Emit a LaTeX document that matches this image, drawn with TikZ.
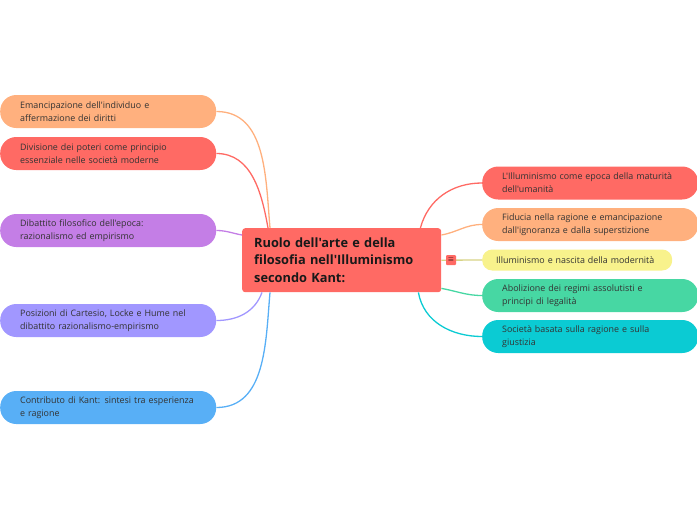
\documentclass[tikz,border=0pt]{standalone}
\usepackage{fontspec}
\setmainfont{Open Sans}[Ligatures=TeXOff]
\usepackage{xcolor}
\definecolor{Coral}{HTML}{FF6A64}
\definecolor{Peach}{HTML}{FFB07E}
\definecolor{Orchid}{HTML}{C47EE6}
\definecolor{Lilac}{HTML}{A197FF}
\definecolor{Sky}{HTML}{58AFF6}
\definecolor{Lemon}{HTML}{F8F28C}
\definecolor{Mint}{HTML}{47D7A3}
\definecolor{Teal}{HTML}{0BCBD3}
\definecolor{Ink}{HTML}{333333}
\usepackage{tikz}
\usetikzlibrary{positioning}

\begin{document}
\begin{tikzpicture}[
  x=1pt,y=-1pt,
  root/.style={fill=Coral,rounded corners=3pt,anchor=north west,align=left,text width=175pt,inner xsep=12pt,minimum height=64pt,font=\fontsize{12.8}{17.5}\selectfont\bfseries,text=black!90},
  topic/.style={rounded corners=16pt,anchor=west,align=left,text width=176pt,inner xsep=20pt,inner ysep=0pt,minimum height=33pt,font=\fontsize{8.9}{13}\selectfont,text=Ink},
  short/.style={rounded corners=10pt,anchor=west,align=left,text width=162pt,inner xsep=14pt,inner ysep=0pt,minimum height=21pt,font=\fontsize{8.9}{13}\selectfont,text=Ink},
  link/.style={line width=1.3pt}
]
\useasboundingbox (0,0) rectangle (697,520);

\node[root] (kant) at (242,228) {Ruolo dell'arte e della\\filosofia nell'Illuminismo\\secondo Kant:};

% left branch
\node[topic,fill=Peach] (emanc) at (0,111.5) {Emancipazione dell'individuo e\\affermazione dei diritti};
\node[topic,fill=Coral] (poteri) at (0,153.5) {Divisione dei poteri come principio\\essenziale nelle società moderne};
\node[topic,fill=Orchid] (dibatt) at (0,230.5) {Dibattito filosofico dell'epoca:\\razionalismo ed empirismo};
\node[topic,fill=Lilac] (posiz) at (0,320.5) {Posizioni di Cartesio, Locke e Hume nel\\dibattito razionalismo-empirismo};
\node[topic,fill=Sky] (contrib) at (0,407.5) {Contributo di Kant: sintesi tra esperienza\\e ragione};

% right branch
\node[topic,fill=Coral] (epoca) at (482,183) {L'Illuminismo come epoca della maturità\\dell'umanità};
\node[topic,fill=Peach] (fiducia) at (482,224.5) {Fiducia nella ragione e emancipazione\\dall'ignoranza e dalla superstizione};
\node[short,fill=Lemon] (moder) at (482,260) {Illuminismo e nascita della modernità};
\node[topic,fill=Mint] (abol) at (482,295.5) {Abolizione dei regimi assolutisti e\\principi di legalità};
\node[topic,fill=Teal] (societa) at (482,336.5) {Società basata sulla ragione e sulla\\giustizia};

\draw[link,Peach] (emanc.east) to[out=0,in=95] ([xshift=28pt]kant.north west);
\draw[link,Coral] (poteri.east) to[out=0,in=100] ([xshift=26pt]kant.north west);
\draw[link,Orchid] (dibatt.east) to[out=0,in=170] ([yshift=-7pt]kant.north west);
\draw[link,Lilac] (posiz.east) to[out=0,in=-110] ([xshift=20pt]kant.south west);
\draw[link,Sky] (contrib.east) to[out=0,in=-95] ([xshift=28pt]kant.south west);

\draw[link,Coral] ([xshift=-21pt]kant.north east) to[out=75,in=180] (epoca.west);
\draw[link,Peach] ([yshift=-7pt]kant.north east) to[out=10,in=180] (fiducia.west);
\draw[link,Lemon!85!black!90] (kant.east) -- (moder.west);
\draw[link,Mint] ([yshift=4pt]kant.south east) to[out=-10,in=180] (abol.west);
\draw[link,Teal] ([xshift=-23pt]kant.south east) to[out=-80,in=180] (societa.west);

\node[fill=Coral,rounded corners=1pt,minimum size=10pt,inner sep=0pt,font=\fontsize{7}{7}\selectfont] (menu) at (451,260) {$\equiv$};
\end{tikzpicture}
\end{document}
